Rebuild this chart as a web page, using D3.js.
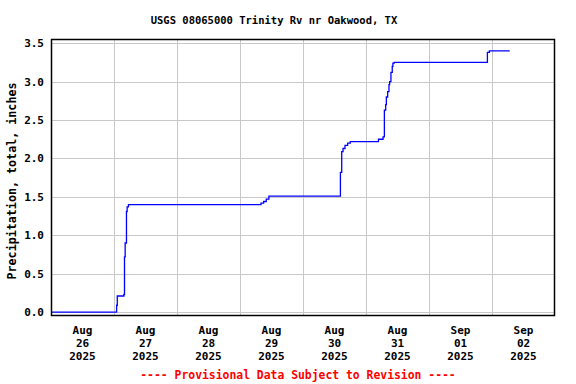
<!DOCTYPE html>
<html>
<head>
<meta charset="utf-8">
<script src="https://cdn.jsdelivr.net/npm/d3@7"></script>
<style>
  html, body { margin: 0; padding: 0; background: #fff; }
  svg text { font-family: "DejaVu Sans Mono", "Liberation Mono", monospace; font-weight: bold; }
</style>
</head>
<body>
<svg id="chart"></svg>
<script>
// Precipitation readings (step after each time)
const times = [
    '2025-08-26T00:00', '2025-08-27T01:00', '2025-08-27T01:15', '2025-08-27T03:45',
    '2025-08-27T04:00', '2025-08-27T04:15', '2025-08-27T04:45', '2025-08-27T05:00',
    '2025-08-27T05:30', '2025-08-29T08:00', '2025-08-29T09:00', '2025-08-29T10:00',
    '2025-08-29T11:00', '2025-08-30T14:15', '2025-08-30T14:45', '2025-08-30T15:15',
    '2025-08-30T16:00', '2025-08-30T17:00', '2025-08-30T18:00', '2025-08-31T04:45',
    '2025-08-31T06:30', '2025-08-31T07:00', '2025-08-31T07:30', '2025-08-31T07:45',
    '2025-08-31T08:15', '2025-08-31T08:45', '2025-08-31T09:00', '2025-08-31T09:30',
    '2025-08-31T10:00', '2025-08-31T10:15', '2025-08-31T10:45', '2025-09-01T22:15',
    '2025-09-01T23:00', '2025-09-02T06:45'
];
const precip = [
    0.00, 0.09, 0.21, 0.23,
    0.72, 0.90, 1.31, 1.37,
    1.40, 1.42, 1.44, 1.47,
    1.51, 1.82, 2.09, 2.13,
    2.17, 2.20, 2.22, 2.25,
    2.28, 2.63, 2.70, 2.80,
    2.87, 2.96, 3.00, 3.12,
    3.20, 3.24, 3.25, 3.38,
    3.40, 3.40
];

const yTicks = [0, 0.5, 1.0, 1.5, 2.0, 2.5, 3.0, 3.5];
const dayTicks = ['2025-08-26', '2025-08-27', '2025-08-28', '2025-08-29',
                  '2025-08-30', '2025-08-31', '2025-09-01', '2025-09-02', '2025-09-03'];

const title = 'USGS 08065000 Trinity Rv nr Oakwood, TX';
const yLabel = 'Precipitation, total, inches';
const footer = '---- Provisional Data Subject to Revision ----';

const width = 576, height = 384;
const margin = { left: 51, right: 21, top: 39, bottom: 68 };

const parseTime = d3.timeParse('%Y-%m-%dT%H:%M');
const parseDay = d3.timeParse('%Y-%m-%d');
const data = times.map((t, i) => ({ t: parseTime(t), v: precip[i] }));
const days = dayTicks.map(parseDay);

const svg = d3.select('#chart')
    .attr('width', width)
    .attr('height', height);

const x = d3.scaleTime()
    .domain([days[0], days[days.length - 1]])
    .range([margin.left, width - margin.right]);

const y = d3.scaleLinear()
    .domain([-0.05, 3.555])
    .range([height - margin.bottom, margin.top]);

// Grid lines
const grid = svg.append('g');
grid.selectAll('.hgrid')
    .data(yTicks)
    .enter().append('line')
    .attr('x1', margin.left).attr('x2', width - margin.right)
    .attr('y1', d => Math.round(y(d)) + 0.5).attr('y2', d => Math.round(y(d)) + 0.5)
    .attr('stroke', '#c8c8c8');

grid.selectAll('.vgrid')
    .data(days.slice(1, -1))
    .enter().append('line')
    .attr('x1', d => Math.round(x(d)) + 0.5).attr('x2', d => Math.round(x(d)) + 0.5)
    .attr('y1', margin.top).attr('y2', height - margin.bottom)
    .attr('stroke', '#c8c8c8');

// Data line
const line = d3.line()
    .x(d => x(d.t))
    .y(d => y(d.v))
    .curve(d3.curveStepAfter);

svg.append('path')
    .datum(data)
    .attr('d', line)
    .attr('fill', 'none')
    .attr('stroke', '#0000ff')
    .attr('stroke-width', 1.3);

// Plot frame
svg.append('rect')
    .attr('x', margin.left + 0.5)
    .attr('y', margin.top + 0.5)
    .attr('width', width - margin.left - margin.right - 1)
    .attr('height', height - margin.top - margin.bottom - 1)
    .attr('fill', 'none')
    .attr('stroke', '#000')
    .attr('stroke-width', 1.5);

// Y axis labels
svg.append('g')
    .selectAll('text')
    .data(yTicks)
    .enter().append('text')
    .attr('x', 44)
    .attr('y', d => y(d) + 4)
    .attr('text-anchor', 'end')
    .style('font-size', '11px')
    .text(d => d.toFixed(1));

// X axis labels: centred at noon of each day
const fmtMon = d3.timeFormat('%b'), fmtDay = d3.timeFormat('%d'), fmtYr = d3.timeFormat('%Y');
const xLab = svg.append('g')
    .selectAll('text')
    .data(days.slice(0, -1))
    .enter().append('text')
    .attr('text-anchor', 'middle')
    .attr('transform', d => `translate(${x(d3.timeHour.offset(d, 12))},0)`)
    .style('font-size', '11px');

[fmtMon, fmtDay, fmtYr].forEach((f, i) => {
    xLab.append('tspan')
        .attr('x', 0)
        .attr('y', 334 + i * 13)
        .text(d => f(d));
});

// Title
svg.append('text')
    .attr('x', 274)
    .attr('y', 24)
    .attr('text-anchor', 'middle')
    .style('font-size', '10.5px')
    .text(title);

// Y axis title
svg.append('text')
    .attr('transform', 'translate(16,181) rotate(-90)')
    .attr('text-anchor', 'middle')
    .style('font-size', '11.7px')
    .text(yLabel);

// Footer
svg.append('text')
    .attr('x', 298)
    .attr('y', 379)
    .attr('text-anchor', 'middle')
    .attr('fill', '#ff0000')
    .style('font-size', '11.4px')
    .text(footer);
</script>
</body>
</html>
